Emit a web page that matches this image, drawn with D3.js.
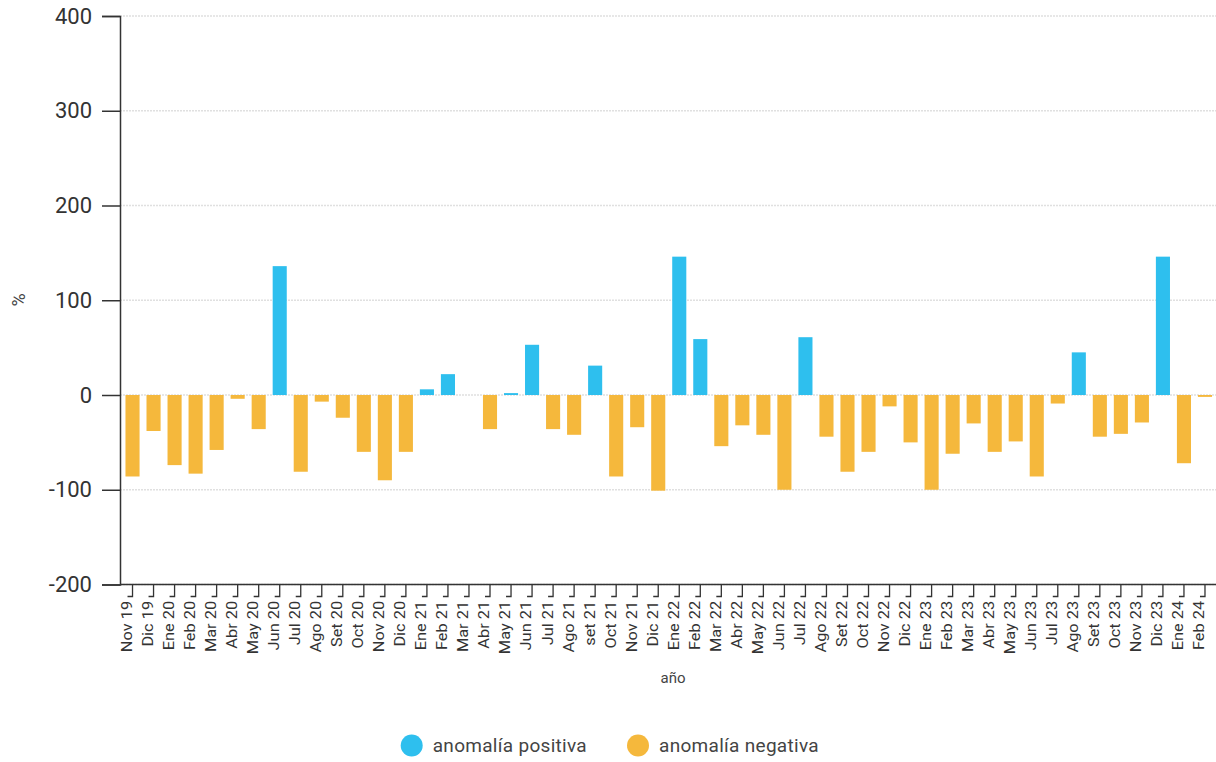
<!DOCTYPE html>
<html>
<head>
<meta charset="utf-8">
<script src="https://cdn.jsdelivr.net/npm/d3@7"></script>
<style>
  html, body { margin: 0; padding: 0; background: #fff; }
  svg { display: block; font-family: Roboto, "Noto Sans", sans-serif; }
</style>
</head>
<body>
<svg id="chart" width="1216" height="762"></svg>
<script>
const categories = ["Nov 19","Dic 19","Ene 20","Feb 20","Mar 20","Abr 20","May 20","Jun 20","Jul 20","Ago 20","Set 20","Oct 20","Nov 20","Dic 20","Ene 21","Feb 21","Mar 21","Abr 21","May 21","Jun 21","Jul 21","Ago 21","set 21","Oct 21","Nov 21","Dic 21","Ene 22","Feb 22","Mar 22","Abr 22","May 22","Jun 22","Jul 22","Ago 22","Set 22","Oct 22","Nov 22","Dic 22","Ene 23","Feb 23","Mar 23","Abr 23","May 23","Jun 23","Jul 23","Ago 23","Set 23","Oct 23","Nov 23","Dic 23","Ene 24","Feb 24"];
const values = [-86,-38,-74,-83,-58,-4,-36,136,-81,-7,-24,-60,-90,-60,6,22,0,-36,2,53,-36,-42,31,-86,-34,-101,146,59,-54,-32,-42,-100,61,-44,-81,-60,-12,-50,-100,-62,-30,-60,-49,-86,-9,45,-44,-41,-29,146,-72,-2];
const yTicks = [-200,-100,0,100,200,300,400];
const seriesNames = ["anomalía positiva","anomalía negativa"];
const seriesColors = ["#2EBFEE","#F5B83C"];
const xTitle = "año";
const yTitle = "%";

(function () {
const svg = d3.select("#chart");
const mLeft = 120, mRight = 1216, mTop = 16, mBottom = 584.5;

const x = d3.scaleBand().domain(categories).range([122, 1215.5]).paddingInner(0.33).paddingOuter(0.165);
const y = d3.scaleLinear().domain([-200, 400]).range([mBottom, mTop]);

// gridlines
svg.append("g").selectAll("line").data(yTicks).join("line")
  .attr("x1", mLeft).attr("x2", mRight)
  .attr("y1", d => y(d)).attr("y2", d => y(d))
  .attr("stroke", "#e0e0e0").attr("stroke-width", 1.5)
  .attr("stroke-dasharray", "2,1");

// bars
svg.append("g").selectAll("rect").data(categories.map((c, i) => ({c, v: values[i]}))).join("rect")
  .attr("x", d => x(d.c))
  .attr("width", x.bandwidth())
  .attr("y", d => y(Math.max(0, d.v)))
  .attr("height", d => Math.abs(y(d.v) - y(0)))
  .attr("fill", d => d.v >= 0 ? seriesColors[0] : seriesColors[1]);

// y axis
const yAxis = svg.append("g").attr("transform", `translate(${mLeft},0)`)
  .call(d3.axisLeft(y).tickValues(yTicks).tickFormat(d => String(d)).tickSize(18).tickPadding(10));
yAxis.select(".domain").attr("stroke", "#333").attr("stroke-width", 1.5);
yAxis.selectAll(".tick line").attr("stroke", "#333").attr("stroke-width", 1.5);
yAxis.selectAll(".tick text").attr("fill", "#333").style("font-size", "22px")
  .attr("font-family", "Roboto, sans-serif");

// x axis
const xAxis = svg.append("g").attr("transform", `translate(0,${mBottom})`)
  .call(d3.axisBottom(x).tickSize(0).tickSizeOuter(0));
xAxis.select(".domain").attr("d", `M${mLeft},0H${mRight}`).attr("stroke", "#333").attr("stroke-width", 1.5);
xAxis.selectAll(".tick").append("path")
  .attr("d", "M0,0V12H-5").attr("fill", "none").attr("stroke", "#333").attr("stroke-width", 1.3);
xAxis.selectAll(".tick text")
  .attr("fill", "#333")
  .style("font-size", "14px")
  .attr("font-family", "Roboto, sans-serif")
  .attr("text-anchor", "end")
  .attr("x", -14)
  .attr("y", -5.5)
  .attr("dy", "0.35em")
  .attr("transform", "scale(1,1.17) rotate(-90)");

// axis titles
svg.append("text").attr("x", 673).attr("y", 683).attr("text-anchor", "middle")
  .attr("fill", "#444").style("font-size", "15px").text(xTitle);
svg.append("text").attr("transform", "translate(25,300) rotate(-90)").attr("text-anchor", "middle")
  .attr("fill", "#444").style("font-size", "18px").text(yTitle);

// legend
const legend = svg.append("g");
const legendX = [411.7, 638];
seriesNames.forEach((name, i) => {
  const g = legend.append("g").attr("transform", `translate(${legendX[i]},745.5)`);
  g.append("circle").attr("r", 11).attr("fill", seriesColors[i]);
  g.append("text").attr("x", 21).attr("dy", "0.35em").attr("fill", "#444")
    .style("font-size", "19px").style("letter-spacing", "0.3px").text(name);
});
})();
</script>
</body>
</html>
